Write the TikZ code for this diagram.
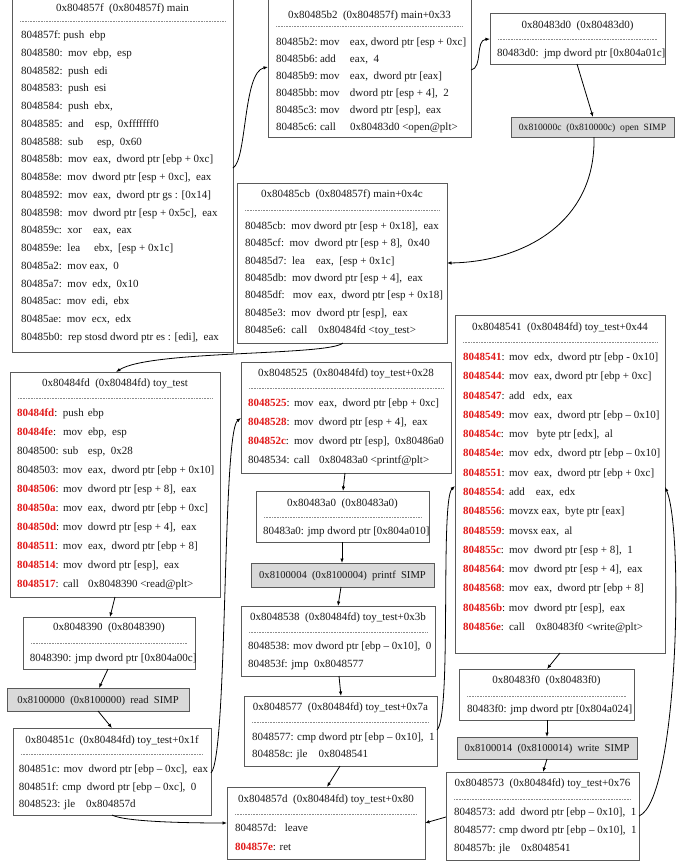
\documentclass[tikz,border=0pt]{standalone}
\usepackage{fontspec}
\setmainfont{Liberation Serif}
\usetikzlibrary{arrows.meta}
\definecolor{addr}{RGB}{225,25,25}
\definecolor{bord}{RGB}{90,90,90}
\newcommand\redaddr[1]{\textbf{\color{addr}#1}}
\newcommand\cA[2][46pt]{\makebox[#1][l]{#2}}
\newcommand\cM[2][25pt]{\makebox[#1][l]{#2}}
\tikzset{
 cb/.style={draw=bord, line width=0.9pt, inner sep=0pt, outer sep=0pt},
 simp/.style={cb, fill=black!15},
 txt/.style={inner sep=0pt, outer sep=0pt, font=\fontsize{11pt}{13pt}\selectfont, text=black!90},
 sepline/.style={draw=black!45, line width=0.4pt, dash pattern=on 0.8pt off 0.8pt},
 conn/.style={draw=black, line width=0.8pt, -{Latex[length=4.5pt,width=3.5pt]}},
}
% name, x1, y1, x2, y2, titleY, dashY, title
\newcommand\cbox[8]{%
 \node[cb, minimum width={#4-#2}, minimum height={#5-#3}, anchor=north west] (#1) at (#2,#3) {};
 \node[txt, anchor=base] (#1-t) at ({(#2+#4)/2},{#6+3.5}) {#8};
 \draw[sepline] ({#2+8},#7) -- ({#4-8},#7);}
% [size] name, x1, y1, x2, y2, text
\newcommand\simpbox[7][10.6pt]{%
 \node[simp, minimum width={#5-#3}, minimum height={#6-#4}, anchor=north west] (#2) at (#3,#4) {};
 \node[txt, font=\fontsize{#1}{13pt}\selectfont, anchor=base] (#2-t) at ({(#3+#5)/2},{(#4+#6)/2+3.5}) {#7};}
% name, x, y0, dy, list
\newcommand\bxlines[5]{%
 \foreach \ltext [count=\lnum from 0] in {#5} {\node[txt, anchor=base west] (#1-l\lnum) at (#2,{#3+\lnum*#4+3.5}) {\ltext};}}
\begin{document}
\begin{tikzpicture}[x=1pt,y=-1pt]
\useasboundingbox (0,0) rectangle (694,863);
\fill[white] (0,0) rectangle (694,863);

% main
\cbox{m0}{12}{-1}{233}{352}{8}{21}{0x804857f~~(0x804857f) main}
\bxlines{m0}{21}{35}{17.76}{%
 {804857f:~push~~ebp},
 {8048580:~~mov~~ebp,~~esp},
 {8048582:~~push~~edi},
 {8048583:~~push~~esi},
 {8048584:~~push~~ebx,},
 {8048585:~~and~~~~esp,~~0xfffffff0},
 {8048588:~~sub~~~~~esp,~~0x60},
 {804858b:~~mov~~eax,~~dword ptr [ebp + 0xc]},
 {804858e:~~mov~~dword ptr [esp + 0xc],~~eax},
 {8048592:~~mov~~eax,~~dword ptr gs : [0x14]},
 {8048598:~~mov~~dword ptr [esp + 0x5c],~~eax},
 {804859c:~~xor~~~~eax,~~eax},
 {804859e:~~lea~~~~~ebx,~~[esp + 0x1c]},
 {80485a2:~~mov eax,~~0},
 {80485a7:~~mov~~edx,~~0x10},
 {80485ac:~~mov~~edi,~~ebx},
 {80485ae:~~mov~~ecx,~~edx},
 {80485b0:~~rep stosd dword ptr es : [edi],~~eax}}

% main+0x33
\cbox{m33}{268}{-1}{471}{137}{15}{26}{0x80485b2~~(0x804857f) main+0x33}
\bxlines{m33}{276}{42}{17}{%
 {\cA[44pt]{80485b2:}\cM[30pt]{mov}eax, dword ptr [esp + 0xc]},
 {\cA[44pt]{80485b6:}\cM[30pt]{add}eax,~~4},
 {\cA[44pt]{80485b9:}\cM[30pt]{mov}eax,~~dword ptr [eax]},
 {\cA[44pt]{80485bb:}\cM[30pt]{mov}dword ptr [esp + 4],~~2},
 {\cA[44pt]{80485c3:}\cM[30pt]{mov}dword ptr [esp],~~eax},
 {\cA[44pt]{80485c6:}\cM[30pt]{call}0x80483d0 <open@plt>}}

% 0x80483d0
\cbox{p3d0}{490}{13}{665}{64}{25}{39}{0x80483d0~~(0x80483d0)}
\bxlines{p3d0}{497}{53}{17}{{80483d0:~~jmp dword ptr [0x804a01c]}}

\simpbox[9.6pt]{sopen}{511}{117}{674}{137}{0x810000c~~(0x810000c)~~open~~SIMP}

% main+0x4c
\cbox{m4c}{237}{183}{447}{343}{194}{210}{0x80485cb~~(0x804857f) main+0x4c}
\bxlines{m4c}{245}{226}{17.33}{%
 {80485cb:~~mov dword ptr [esp + 0x18],~~eax},
 {80485cf:~~mov~~dword ptr [esp + 8],~~0x40},
 {80485d7:~~lea~~~~eax,~~[esp + 0x1c]},
 {80485db:~~mov dword ptr [esp + 4],~~eax},
 {80485df:~~~mov~~eax,~~dword ptr [esp + 0x18]},
 {80485e3:~~mov~~dword ptr [esp],~~eax},
 {80485e6:~~call~~~~0x80484fd <toy\_test>}}

% toy_test
\cbox{tt}{10}{372}{220}{597}{383}{398}{0x80484fd~~(0x80484fd) toy\_test}
\bxlines{tt}{17}{413}{19}{%
 {\cA{\redaddr{80484fd}:}\cM{push}ebp},
 {\cA{\redaddr{80484fe}:}\cM{mov}ebp,~~esp},
 {\cA{8048500:}\cM{sub}esp,~~0x28},
 {\cA{8048503:}\cM{mov}eax,~~dword ptr [ebp + 0x10]},
 {\cA{\redaddr{8048506}:}\cM{mov}dword ptr [esp + 8],~~eax},
 {\cA{\redaddr{804850a}:}\cM{mov}eax,~~dword ptr [ebp + 0xc]},
 {\cA{\redaddr{804850d}:}\cM{mov}dowrd ptr [esp + 4],~~eax},
 {\cA{\redaddr{8048511}:}\cM{mov}eax,~~dword ptr [ebp + 8]},
 {\cA{\redaddr{8048514}:}\cM{mov}dword ptr [esp],~~eax},
 {\cA{\redaddr{8048517}:}\cM{call}0x8048390 <read@plt>}}

% 0x8048390
\cbox{p390}{23}{617}{195}{669}{627}{643}{0x8048390~~(0x8048390)}
\bxlines{p390}{30}{658}{17}{{8048390: jmp dword ptr [0x804a00c]}}

\simpbox{sread}{7}{688}{189}{711}{0x8100000~~(0x8100000)~~read~~SIMP}

% toy_test+0x1f
\cbox{t1f}{13}{728}{211}{815}{740}{754}{0x804851c~~(0x80484fd) toy\_test+0x1f}
\bxlines{t1f}{19}{769}{17.5}{%
 {804851c: mov~~dword ptr [ebp – 0xc],~~eax},
 {804851f: cmp~~dword ptr [ebp – 0xc],~~0},
 {8048523: jle~~~~0x804857d}}

% toy_test+0x28
\cbox{t28}{241}{362}{451}{473}{373}{388}{0x8048525~~(0x80484fd) toy\_test+0x28}
\bxlines{t28}{248}{403}{19}{%
 {\cA{\redaddr{8048525}:}\cM{mov}eax,~~dword ptr [ebp + 0xc]},
 {\cA{\redaddr{8048528}:}\cM{mov}dword ptr [esp + 4],~~eax},
 {\cA{\redaddr{804852c}:}\cM{mov}dword ptr [esp],~~0x80486a0},
 {\cA{8048534:}\cM{call}0x80483a0 <printf@plt>}}

% 0x80483a0
\cbox{p3a0}{256}{491}{429}{542}{503}{517}{0x80483a0~~(0x80483a0)}
\bxlines{p3a0}{263}{531}{17}{{80483a0: jmp dword ptr [0x804a010]}}

\simpbox{sprintf}{251}{563}{434}{587}{0x8100004~~(0x8100004)~~printf~~SIMP}

% toy_test+0x3b
\cbox{t3b}{241}{606}{435}{676}{617}{632}{0x8048538~~(0x80484fd) toy\_test+0x3b}
\bxlines{t3b}{248}{646}{18}{%
 {8048538: mov dword ptr [ebp – 0x10],~~0},
 {804853f: jmp~~0x8048577}}

% toy_test+0x7a
\cbox{t7a}{244}{696}{437}{766}{707}{722}{0x8048577~~(0x80484fd) toy\_test+0x7a}
\bxlines{t7a}{252}{737}{17}{%
 {8048577: cmp dword ptr [ebp – 0x10],~~1},
 {804858c: jle~~~~0x8048541}}

% toy_test+0x80
\cbox{t80}{227}{787}{425}{859}{799}{814}{0x804857d~~(0x80484fd) toy\_test+0x80}
\bxlines{t80}{235}{828}{19}{%
 {804857d:~~~leave},
 {\redaddr{804857e}: ret}}

% toy_test+0x44
\cbox{t44}{455}{315}{665}{653}{327}{342}{0x8048541~~(0x80484fd) toy\_test+0x44}
\bxlines{t44}{463}{357}{19.29}{%
 {\cA{\redaddr{8048541}:}mov~~edx,~~dword ptr [ebp - 0x10]},
 {\cA{\redaddr{8048544}:}mov~~eax, dword ptr [ebp + 0xc]},
 {\cA{\redaddr{8048547}:}add~~~edx,~~eax},
 {\cA{\redaddr{8048549}:}mov~~eax,~~dword ptr [ebp – 0x10]},
 {\cA{\redaddr{804854c}:}mov~~~byte ptr [edx],~~al},
 {\cA{\redaddr{804854e}:}mov~~edx,~~dword ptr [ebp – 0x10]},
 {\cA{\redaddr{8048551}:}mov~~eax,~~dword ptr [ebp + 0xc]},
 {\cA{\redaddr{8048554}:}add~~~~eax,~~edx},
 {\cA{\redaddr{8048556}:}movzx eax,~~byte ptr [eax]},
 {\cA{\redaddr{8048559}:}movsx eax,~~al},
 {\cA{\redaddr{804855c}:}mov~~dword ptr [esp + 8],~~1},
 {\cA{\redaddr{8048564}:}mov~~dword ptr [esp + 4],~~eax},
 {\cA{\redaddr{8048568}:}mov~~eax,~~dword ptr [ebp + 8]},
 {\cA{\redaddr{804856b}:}mov~~dword ptr [esp],~~eax},
 {\cA{\redaddr{804856e}:}call~~~~0x80483f0 <write@plt>}}

% 0x80483f0
\cbox{p3f0}{459}{669}{634}{720}{680}{696}{0x80483f0~~(0x80483f0)}
\bxlines{p3f0}{467}{709}{17}{{80483f0: jmp dword ptr [0x804a024]}}

\simpbox{swrite}{457}{737}{637}{759}{0x8100014~~(0x8100014)~~write~~SIMP}

% toy_test+0x76
\cbox{t76}{446}{772}{639}{860}{783}{799}{0x8048573~~(0x80484fd) toy\_test+0x76}
\bxlines{t76}{454}{812}{18}{%
 {8048573: add~~dword ptr [ebp – 0x10],~~1},
 {8048577: cmp dword ptr [ebp – 0x10],~~1},
 {804857b: jle~~~~0x8048541}}

% connectors
\draw[conn] (m0.east |- 0,168) .. controls (247,160) and (243,72) .. (m33.west |- 0,67);
\draw[conn] (m33.east |- 0,70) .. controls (483,68) and (475,40) .. (p3d0.west |- 0,39);
\draw[conn] (p3d0.south -| 577,0) -- (sopen.north -| 593,0);
\draw[conn] (sopen.south -| 594,0) .. controls (596,225) and (520,262) .. (m4c.east |- 0,263);
\draw[conn] (m4c.south -| 343,0) .. controls (328,356) and (150,350) .. (tt.north -| 116,0);
\draw[conn] (tt.south -| 115,0) -- (p390.north -| 110,0);
\draw[conn] (p390.south -| 108,0) -- (sread.north -| 99,0);
\draw[conn] (sread.south -| 98,0) -- (t1f.north -| 112,0);
\draw[conn] (t1f.east |- 0,773) .. controls (228,755) and (222,432) .. (t28.west |- 0,418);
\draw[conn] (t28.south -| 345,0) -- (p3a0.north -| 343,0);
\draw[conn] (p3a0.south -| 342,0) -- (sprintf.north -| 342,0);
\draw[conn] (sprintf.south -| 341,0) -- (t3b.north -| 338,0);
\draw[conn] (t3b.south -| 339,0) -- (t7a.north -| 341,0);
\draw[conn] (t7a.south -| 340,0) -- (t80.north -| 327,0);
\draw[conn] (t1f.south -| 112,0) .. controls (125,822) and (190,823) .. (t80.west |- 0,823);
\draw[conn] (t7a.east |- 0,730) .. controls (452,715) and (440,500) .. (t44.west |- 0,486);
\draw[conn] (t44.south -| 560,0) -- (p3f0.north -| 547,0);
\draw[conn] (p3f0.south -| 547,0) -- (swrite.north -| 547,0);
\draw[conn] (swrite.south -| 547,0) -- (t76.north -| 543,0);
\draw[conn] (t76.west |- 0,817) -- (t80.east |- 0,823);
\draw[conn] (t76.east |- 0,816) .. controls (678,800) and (684,530) .. (t44.east |- 0,487);
\end{tikzpicture}
\end{document}
